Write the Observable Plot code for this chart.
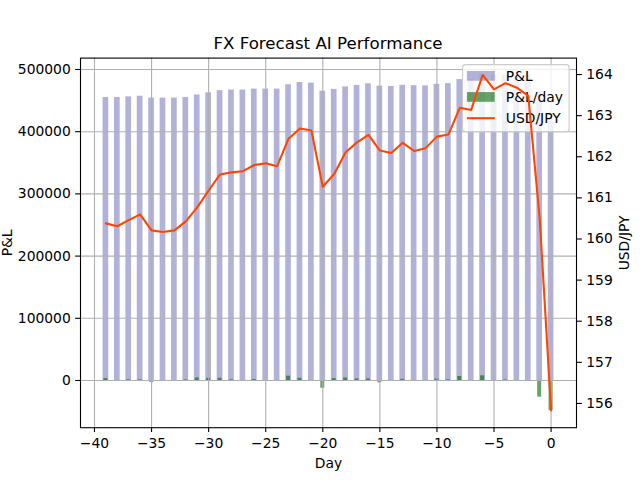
<!DOCTYPE html>
<html>
<head>
<meta charset="utf-8">
<script src="https://cdn.jsdelivr.net/npm/d3@7"></script>
<script src="https://cdn.jsdelivr.net/npm/@observablehq/plot@0.6"></script>
<style>
  body { margin: 0; background: #fff; }
  #fig { position: relative; width: 640px; height: 480px; overflow: hidden; background: #fff; }
  #title { position: absolute; left: 80px; width: 496px; top: 33.5px; line-height: 20px;
           text-align: center; font-family: "DejaVu Sans"; font-size: 16.67px; color: #000; }
</style>
</head>
<body>
<div id="fig"><div id="title">FX Forecast AI Performance</div></div>
<script>
const days = [-39,-38,-37,-36,-35,-34,-33,-32,-31,-30,-29,-28,-27,-26,-25,-24,-23,-22,-21,-20,
              -19,-18,-17,-16,-15,-14,-13,-12,-11,-10,-9,-8,-7,-6,-5,-4,-3,-2,-1,0];
const pnl = [455000,455000,456000,457000,454000,454000,454000,455000,459000,462500,
             466000,467000,467000,468500,468500,468500,475500,479000,478000,465000,
             468000,472000,474500,477000,473200,472800,474600,474000,473600,476200,
             477300,483800,483800,491300,490500,491300,491300,491300,464500,416000];
const pnlDay = [3000,0,1000,1000,-3000,0,0,1000,4000,3500,
                3500,1000,0,1500,0,0,7000,3500,-1000,-12500,
                3000,4000,2500,2500,-3800,-400,1800,-600,-400,2600,
                1100,6500,0,7500,-800,800,0,0,-26800,-48500];
const usdjpy = [160.38,160.31,160.46,160.60,160.21,160.17,160.21,160.43,160.77,161.18,
                161.57,161.62,161.65,161.80,161.84,161.77,162.44,162.69,162.64,161.27,
                161.58,162.11,162.35,162.53,162.15,162.09,162.34,162.14,162.21,162.49,
                162.54,163.19,163.14,163.99,163.64,163.79,163.68,163.48,160.50,155.83];
const xTicks = [-40,-35,-30,-25,-20,-15,-10,-5,0];
const yTicks = [0,100000,200000,300000,400000,500000];
const rTicks = [156,157,158,159,160,161,162,163,164];
const seriesNames = ["P&L","P&L/day","USD/JPY"];
const colors = {pnl: "navy", pnlDay: "darkgreen", usd: "#ff4500"};

const rows = days.map((d, i) => ({day: d, pnl: pnl[i], pnlDay: pnlDay[i], usd: usdjpy[i]}));

const yDom = [-75900, 518300];
const rDom = [155.41, 164.40];
const toLeft = v => yDom[0] + (v - rDom[0]) / (rDom[1] - rDom[0]) * (yDom[1] - yDom[0]);
const toRight = v => rDom[0] + (v - yDom[0]) / (yDom[1] - yDom[0]) * (rDom[1] - rDom[0]);
const fmtX = d => d < 0 ? "\u2212" + Math.abs(d) : String(d);

const W = 640, H = 480, mL = 80, mR = 64, mT = 57.6, mB = 52.8;
const fs = 13.89, tick = 4.86, grid = "#b0b0b0";

const plot = Plot.plot({
  width: W, height: H,
  marginLeft: mL, marginRight: mR, marginTop: mT, marginBottom: mB,
  style: "font-family: 'DejaVu Sans'; font-size: 13.89px; overflow: visible; background: transparent;",
  x: {type: "linear", domain: [-41.225, 2.225]},
  y: {type: "linear", domain: yDom},
  marks: [
    Plot.rect(rows, {x1: d => d.day - 0.25, x2: d => d.day + 0.25, y1: 0, y2: "pnl",
                     fill: colors.pnl, fillOpacity: 0.3}),
    Plot.rect(rows, {x1: d => d.day - 0.175, x2: d => d.day + 0.175, y1: 0, y2: "pnlDay",
                     fill: colors.pnlDay, fillOpacity: 0.6}),
    Plot.gridX(xTicks, {stroke: grid, strokeOpacity: 1, strokeWidth: 1.1}),
    Plot.gridY(yTicks, {stroke: grid, strokeOpacity: 1, strokeWidth: 1.1}),
    Plot.line(rows, {x: "day", y: d => toLeft(d.usd), stroke: colors.usd, strokeWidth: 2.08}),
    Plot.axisX(xTicks, {tickFormat: fmtX, tickSize: tick, tickPadding: 5.3, strokeWidth: 1.1,
                        label: "Day", labelAnchor: "center", labelArrow: "none", labelOffset: 40}),
    Plot.axisY(yTicks, {anchor: "left", tickFormat: d => String(d), tickSize: tick, tickPadding: 4.86,
                        strokeWidth: 1.1, label: "P&L", labelAnchor: "center", labelArrow: "none", labelOffset: 78.5}),
    Plot.axisY(rTicks.map(toLeft), {anchor: "right", tickFormat: d => String(Math.round(toRight(d))),
                        tickSize: tick, tickPadding: 4.86, strokeWidth: 1.1,
                        label: "USD/JPY", labelAnchor: "center", labelArrow: "none", labelOffset: 52}),
    Plot.frame({stroke: "black", strokeWidth: 1.1})
  ]
});

document.getElementById("fig").appendChild(plot);
plot.style.position = "absolute";
plot.style.left = "0px";
plot.style.top = "0px";

// Legend (drawn above bars/grid and below the USD/JPY line, as in the reference)
const svg = d3.select(plot);
const lg = svg.append("g").attr("aria-label", "legend")
  .attr("text-anchor", "start")
  .style("font-family", "DejaVu Sans").style("font-size", fs + "px");
const lx = 462.6, ly = 64.6, lw = 106.5, lh = 67;
lg.append("rect").attr("x", lx).attr("y", ly).attr("width", lw).attr("height", lh)
  .attr("rx", 2.8).attr("ry", 2.8)
  .style("fill", "#ffffff").style("fill-opacity", 0.8)
  .style("stroke", "#cccccc").style("stroke-width", 1.1);
const hx = lx + 4.3, hw = 27.8, tx = hx + hw + 11.1;
const rowY = [75.9, 97.0, 118.2];
lg.append("rect").attr("x", hx).attr("y", rowY[0] - 4.9).attr("width", hw).attr("height", 9.7)
  .style("fill", colors.pnl).style("fill-opacity", 0.3);
lg.append("rect").attr("x", hx).attr("y", rowY[1] - 4.9).attr("width", hw).attr("height", 9.7)
  .style("fill", colors.pnlDay).style("fill-opacity", 0.6);
lg.append("line").attr("x1", hx).attr("x2", hx + hw).attr("y1", rowY[2]).attr("y2", rowY[2])
  .style("stroke", colors.usd).style("stroke-width", 2.08);
seriesNames.forEach((n, i) => {
  lg.append("text").attr("x", tx).attr("y", rowY[i] + 4.9)
    .attr("text-anchor", "start").style("fill", "black").text(n);
});
svg.select('g[aria-label="line"]').raise();
svg.select('g[aria-label="frame"]').raise();
</script>
</body>
</html>
